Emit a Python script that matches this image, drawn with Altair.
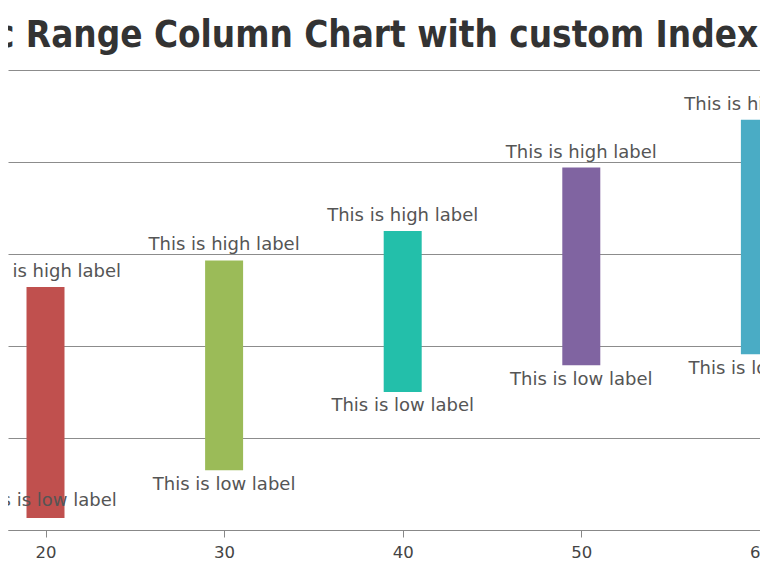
import altair as alt
import pandas as pd

# ---- data ----
x_vals = [20, 30, 40, 50, 60]
low_vals = [1.3, 6.5, 15.0, 17.9, 19.1]
high_vals = [26.4, 29.3, 32.5, 39.4, 44.6]
bar_colors = ["#C0504E", "#9BBB58", "#23BFAA", "#8064A1", "#4AACC5"]
high_labels = ["This is high label"] * 5
low_labels = ["This is low label"] * 5
grid_values = [0, 10, 20, 30, 40, 50]
title_text = "Basic Range Column Chart with custom Index Labels"

df = pd.DataFrame({
    "x": x_vals,
    "low": low_vals,
    "high": high_vals,
    "color": bar_colors,
    "hl": high_labels,
    "ll": low_labels,
})

LABEL_FONT = "DejaVu Sans"

xscale = alt.Scale(domain=[17.9, 60.006], nice=False, zero=False, padding=0)
yscale = alt.Scale(domain=[0, 56.739], nice=False, zero=False, padding=0)

x_enc = alt.X(
    "x:Q", scale=xscale,
    axis=alt.Axis(values=x_vals, grid=False, tickSize=7, tickColor="#888888",
                  domainColor="#888888", labelFontSize=16.5, labelColor="#444444",
                  labelFont=LABEL_FONT, labelPadding=7, title=None, format="d",
                  labelBound=False, labelFlush=False, labelOverlap=False),
)
y_axis = alt.Axis(values=grid_values, grid=True, gridColor="#8c8c8c", domain=False,
                  ticks=False, labels=False, title=None)

base = alt.Chart(df).encode(x=x_enc)

bars = base.mark_bar(width=38).encode(
    y=alt.Y("low:Q", scale=yscale, axis=y_axis),
    y2="high:Q",
    color=alt.Color("color:N", scale=None),
)

high_text = base.mark_text(baseline="alphabetic", dy=-10, fontSize=18, font=LABEL_FONT,
                           color="#555555").encode(
    y=alt.Y("high:Q", scale=yscale, axis=y_axis),
    text="hl:N",
)

low_text = base.transform_filter("datum.x > 20").mark_text(
    baseline="alphabetic", dy=19.5, fontSize=18, font=LABEL_FONT, color="#555555").encode(
    y=alt.Y("low:Q", scale=yscale, axis=y_axis),
    text="ll:N",
)

low_text_first = base.transform_filter("datum.x == 20").mark_text(
    baseline="alphabetic", dy=-12, fontSize=18, font=LABEL_FONT, color="#555555").encode(
    y=alt.Y("low:Q", scale=yscale, axis=y_axis),
    text="ll:N",
)

title = alt.Chart(pd.DataFrame({"t": [title_text]})).mark_text(
    align="left", baseline="alphabetic", font="DejaVu Sans Condensed",
    fontWeight="bold", fontSize=36.5, color="#333333").encode(
    x=alt.value(-91), y=alt.value(39), text="t:N")

chart = alt.layer(bars, high_text, low_text, low_text_first, title).properties(
    width=752, height=522,
    autosize=alt.AutoSizeParams(type="none"),
    padding={"left": 0, "top": 0, "right": 0, "bottom": 38},
    background="white",
).configure_view(stroke=None)

chart.save("out.html", embed_options={"renderer": "svg", "actions": False})
